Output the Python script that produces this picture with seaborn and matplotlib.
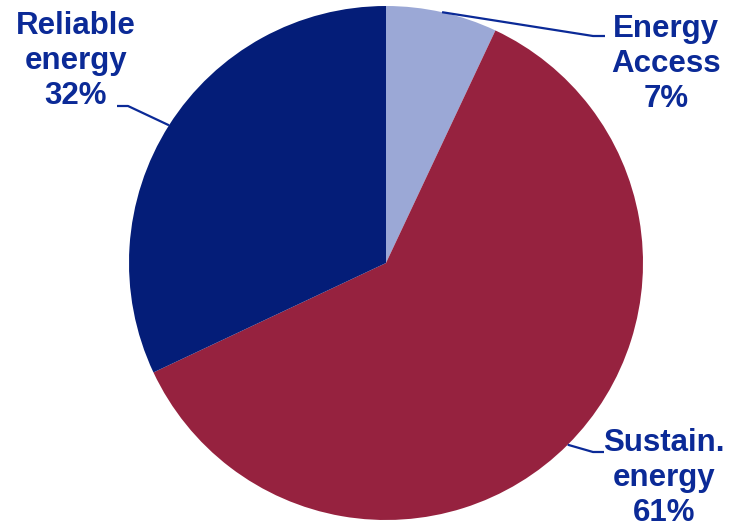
import numpy as np
import seaborn as sns
import matplotlib.pyplot as plt

labels = ['Energy\nAccess\n7%', 'Sustain.\nenergy\n61%', 'Reliable\nenergy\n32%']
shares = [7, 61, 32]
colors = ['#9BA8D6', '#96223F', '#041D78']
text_color = '#0B2A97'

sns.set_theme(style='white')
plt.rcParams['font.family'] = ['Liberation Sans', 'DejaVu Sans']

fig = plt.figure(figsize=(7.44, 5.29), dpi=100)
ax = fig.add_axes([0, 0, 1, 1])

cx, cy, r = 386, 266, 257
wedges, _ = ax.pie(shares, colors=colors, startangle=90, counterclock=False,
                   center=(cx, cy), radius=r, frame=True,
                   wedgeprops=dict(linewidth=0))
ax.set_xlim(0, 744)
ax.set_ylim(0, 529)
ax.set_aspect('equal')
ax.axis('off')

# label positions and leader elbows (in pixel-like data coords)
text_pos = [(666, 465), (664, 51), (76, 468)]
elbows = [((593, 493), (605, 493)), ((593, 77), (604, 77)), ((128, 423), (117, 423))]

for w, lab, (tx, ty), (e1, e2) in zip(wedges, labels, text_pos, elbows):
    mid = np.deg2rad((w.theta1 + w.theta2) / 2)
    px, py = cx + r * np.cos(mid), cy + r * np.sin(mid)
    ax.plot([px, e1[0], e2[0]], [py, e1[1], e2[1]], color=text_color, lw=1.6,
            solid_capstyle='butt')
    ax.text(tx, ty, lab, ha='center', va='center', fontsize=22.5, fontweight='bold',
            color=text_color, linespacing=1.2)

fig.savefig('out.png', dpi=100)
